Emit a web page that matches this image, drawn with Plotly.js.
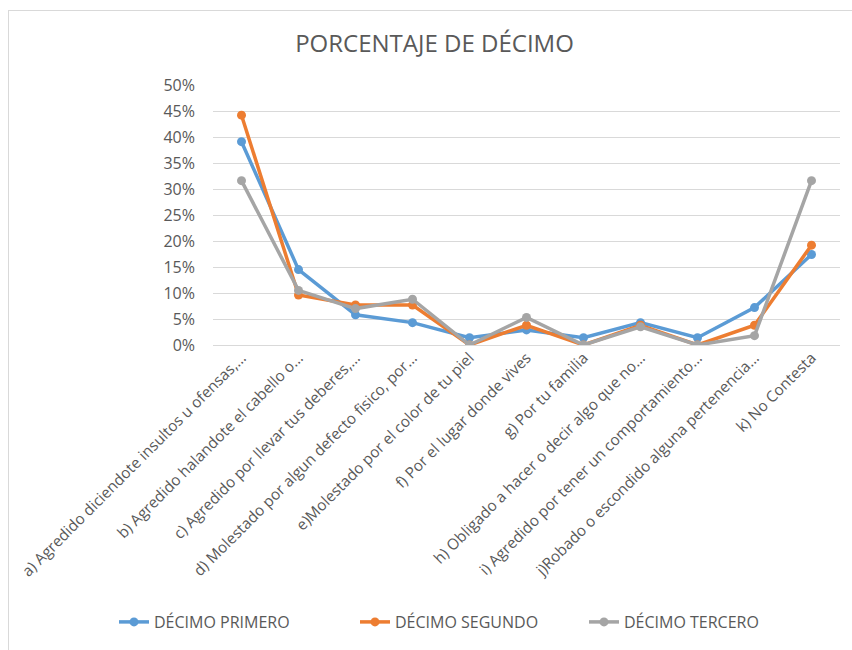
<!DOCTYPE html>
<html>
<head>
<meta charset="utf-8">
<script src="https://cdn.plot.ly/plotly-3.0.1.min.js"></script>
<style>
  html, body { margin: 0; padding: 0; background: #fff; }
  #wrap { position: relative; width: 852px; height: 650px; overflow: hidden; }
  #chart { width: 852px; height: 650px; }
  #frame { position: absolute; left: 8px; top: 10px; width: 900px; height: 700px;
           border-left: 1.5px solid #d9d9d9; border-top: 1.5px solid #d9d9d9; pointer-events: none; }
</style>
</head>
<body>
<div id="wrap">
  <div id="chart"></div>
  <div id="frame"></div>
</div>
<script>
const categories = [
  "a) Agredido diciendote insultos u ofensas,…",
  "b) Agredido halandote el cabello o…",
  "c) Agredido por llevar tus deberes,…",
  "d) Molestado por algun defecto fisico, por…",
  "e)Molestado por el color de tu piel",
  "f) Por el lugar donde vives",
  "g) Por tu familia",
  "h) Obligado a hacer o decir algo que no…",
  "i) Agredido por tener un comportamiento…",
  "j)Robado o escondido alguna pertenencia…",
  "k) No Contesta"
];
const seriesNames = ["DÉCIMO PRIMERO", "DÉCIMO SEGUNDO", "DÉCIMO TERCERO"];
const decimoPrimero = [0.391, 0.145, 0.058, 0.043, 0.014, 0.029, 0.014, 0.043, 0.014, 0.072, 0.174];
const decimoSegundo = [0.442, 0.096, 0.077, 0.077, 0.000, 0.038, 0.000, 0.038, 0.000, 0.038, 0.192];
const decimoTercero = [0.316, 0.105, 0.070, 0.088, 0.000, 0.053, 0.000, 0.035, 0.000, 0.018, 0.316];
const colors = ["#5b9bd5", "#ed7d31", "#a5a5a5"];

const FONT = "Open Sans, Noto Sans, sans-serif";
const TXT = "#595959";

const legendIds = ["legend", "legend2", "legend3"];
const legendLeftPx = [114, 355, 584];

const allSeries = [decimoPrimero, decimoSegundo, decimoTercero];
const traces = allSeries.map((vals, i) => ({
  type: "scatter",
  mode: "lines+markers",
  name: seriesNames[i],
  legend: legendIds[i],
  x: categories,
  y: vals,
  line: { color: colors[i], width: 3.5 },
  marker: { color: colors[i], size: 9 },
  hoverinfo: "skip"
}));

const layout = {
  width: 852,
  height: 650,
  paper_bgcolor: "#ffffff",
  plot_bgcolor: "#ffffff",
  margin: { l: 213, r: 12, t: 85, b: 305 },
  font: { family: FONT, color: TXT },
  title: {
    text: "PORCENTAJE DE DÉCIMO",
    font: { family: FONT, size: 24, color: TXT },
    x: 0.51, xanchor: "center",
    y: 1 - 44 / 650, yanchor: "middle",
    xref: "container", yref: "container"
  },
  xaxis: {
    type: "category",
    range: [-0.5, categories.length - 0.5],
    tickangle: -45,
    showgrid: false,
    zeroline: false,
    showline: false,
    ticks: "",
    tickfont: { family: FONT, size: 15.3, color: TXT },
    automargin: false
  },
  yaxis: {
    range: [0, 0.5],
    dtick: 0.05,
    tickformat: ".0%",
    showgrid: true,
    gridcolor: "#d9d9d9",
    gridwidth: 1,
    zeroline: true,
    zerolinecolor: "#d9d9d9",
    zerolinewidth: 1,
    showline: false,
    ticks: "",
    ticklabelstandoff: 17,
    tickfont: { family: FONT, size: 16, color: TXT },
    automargin: false
  },
  showlegend: true
};

legendIds.forEach((id, i) => {
  layout[id] = {
    orientation: "h",
    xref: "container", yref: "container",
    x: legendLeftPx[i] / 852, xanchor: "left",
    y: 1 - 622 / 650, yanchor: "middle",
    font: { family: FONT, size: 16, color: TXT },
    itemwidth: 30,
    bgcolor: "rgba(0,0,0,0)"
  };
});

Plotly.newPlot("chart", traces, layout, { displayModeBar: false, staticPlot: true });
</script>
</body>
</html>
